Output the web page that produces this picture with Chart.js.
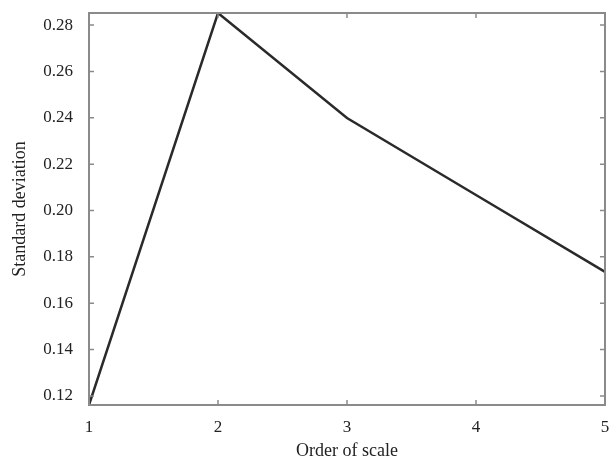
<!DOCTYPE html>
<html>
<head>
<meta charset="utf-8">
<script src="https://cdn.jsdelivr.net/npm/chart.js@4/dist/chart.umd.min.js"></script>
<style>
  html, body { margin: 0; padding: 0; background: #fff; }
  #wrap { width: 611px; height: 464px; }
</style>
</head>
<body>
<div id="wrap"><canvas id="sd"></canvas></div>
<script>
const scaleOrder = ["1", "2", "3", "4", "5"];
const stdDev = [0.1161, 0.2852, 0.2399, 0.2067, 0.1735];
const yTicks = [0.12, 0.14, 0.16, 0.18, 0.20, 0.22, 0.24, 0.26, 0.28];

const serif = "'Liberation Serif', 'Times New Roman', serif";
const axisGrey = '#8a8a8a';

// little ticks pointing into the plot, on all four sides
const innerTicks = {
    id: 'innerTicks',
    afterDraw(chart) {
        const ctx = chart.ctx;
        const a = chart.chartArea;
        const xs = chart.scales.x, ys = chart.scales.y;
        const len = 5;
        ctx.save();
        ctx.strokeStyle = axisGrey;
        ctx.lineWidth = 1.5;
        ctx.beginPath();
        ys.ticks.forEach(t => {
            const py = ys.getPixelForValue(t.value);
            ctx.moveTo(a.left, py); ctx.lineTo(a.left + len, py);
            ctx.moveTo(a.right, py); ctx.lineTo(a.right - len, py);
        });
        xs.ticks.forEach((t, i) => {
            const px = xs.getPixelForTick(i);
            ctx.moveTo(px, a.bottom); ctx.lineTo(px, a.bottom - len);
            ctx.moveTo(px, a.top); ctx.lineTo(px, a.top + len);
        });
        ctx.stroke();
        // frame
        ctx.lineWidth = 2;
        ctx.strokeRect(a.left, a.top, a.right - a.left, a.bottom - a.top);
        ctx.restore();
    }
};

const config = {
    type: 'line',
    data: {
        labels: scaleOrder,
        datasets: [{
            label: 'Standard deviation',
            data: stdDev,
            borderColor: '#2a2a2a',
            borderWidth: 2.5,
            pointRadius: 0,
            tension: 0,
            fill: false
        }]
    },
    options: {
        responsive: true,
        maintainAspectRatio: false,
        animation: false,
        layout: { padding: { left: 0, top: 13, right: 6, bottom: 0 } },
        plugins: {
            legend: { display: false },
            tooltip: { enabled: false }
        },
        scales: {
            x: {
                type: 'category',
                offset: false,
                grid: { display: false, drawTicks: false },
                border: { display: false },
                ticks: { color: '#222', font: { family: serif, size: 17 }, padding: 12, maxRotation: 0 },
                title: { display: true, text: 'Order of scale', color: '#222', font: { family: serif, size: 18 }, padding: { top: 0, bottom: 2 } },
                afterFit(s) {
                    s.height = 59;
                    s.paddingLeft = 0;
                    s.paddingRight = 0;
                }
            },
            y: {
                min: 0.1161,
                max: 0.2852,
                grid: { display: false, drawTicks: false },
                border: { display: false },
                afterBuildTicks(s) { s.ticks = yTicks.map(v => ({ value: v })); },
                ticks: {
                    color: '#222',
                    font: { family: serif, size: 17 },
                    padding: 16,
                    callback: v => v.toFixed(2)
                },
                title: { display: true, text: 'Standard deviation', color: '#222', font: { family: serif, size: 18 }, padding: { top: 9, bottom: 0 } },
                afterFit(s) {
                    s.width = 89;
                    s.paddingTop = 0;
                    s.paddingBottom = 0;
                }
            }
        }
    },
    plugins: [innerTicks]
};

const sdChart = new Chart(document.getElementById('sd'), config);
</script>
</body>
</html>
